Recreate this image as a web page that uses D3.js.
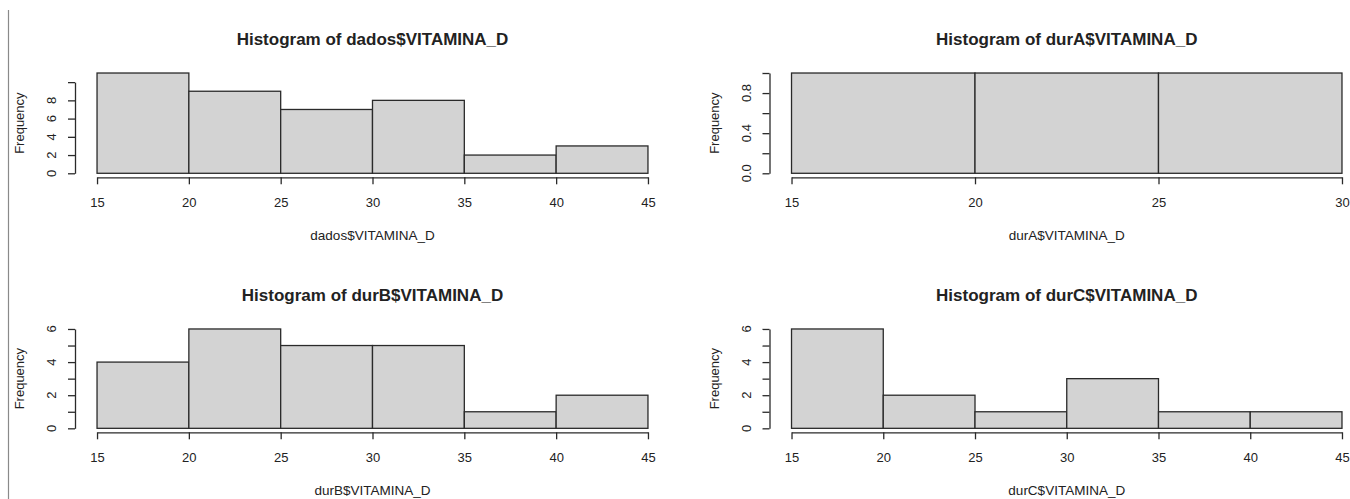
<!DOCTYPE html>
<html>
<head>
<meta charset="utf-8">
<script src="https://cdn.jsdelivr.net/npm/d3@7"></script>
<style>
  html, body { margin: 0; padding: 0; background: #fff; }
  svg { display: block; }
  text { font-family: "Liberation Sans", Arial, sans-serif; fill: #222; }
</style>
</head>
<body>
<svg id="chart" width="1350" height="499"></svg>
<script>
// ---- Data ----
const breaksDados = [15, 20, 25, 30, 35, 40, 45];
const countsDados = [11, 9, 7, 8, 2, 3];

const breaksDurA = [15, 20, 25, 30];
const countsDurA = [1, 1, 1];

const breaksDurB = [15, 20, 25, 30, 35, 40, 45];
const countsDurB = [4, 6, 5, 5, 1, 2];

const breaksDurC = [15, 20, 25, 30, 35, 40, 45];
const countsDurC = [6, 2, 1, 3, 1, 1];

const titles = ["Histogram of dados$VITAMINA_D", "Histogram of durA$VITAMINA_D",
                "Histogram of durB$VITAMINA_D", "Histogram of durC$VITAMINA_D"];
const xLabels = ["dados$VITAMINA_D", "durA$VITAMINA_D", "durB$VITAMINA_D", "durC$VITAMINA_D"];
const yLabel = "Frequency";

const yTicksDados = [0, 2, 4, 6, 8, 10];
const yTickLabelsDados = ["0", "2", "4", "6", "8", ""];
const yTicksDurA = [0, 0.2, 0.4, 0.6, 0.8, 1.0];
const yTickLabelsDurA = ["0.0", "", "0.4", "", "0.8", ""];
const yTicksDurB = [0, 1, 2, 3, 4, 5, 6];
const yTickLabelsDurB = ["0", "", "2", "", "4", "", "6"];
const yTicksDurC = [0, 1, 2, 3, 4, 5, 6];
const yTickLabelsDurC = ["0", "", "2", "", "4", "", "6"];

// ---- Layout ----
const panels = [
  { breaks: breaksDados, counts: countsDados, title: titles[0], xlab: xLabels[0],
    yTicks: yTicksDados, yTickLabels: yTickLabelsDados,
    box: { left: 75, right: 670, top: 69, bottom: 177.3 } },
  { breaks: breaksDurA, counts: countsDurA, title: titles[1], xlab: xLabels[1],
    yTicks: yTicksDurA, yTickLabels: yTickLabelsDurA,
    box: { left: 769.5, right: 1364, top: 69, bottom: 177.3 } },
  { breaks: breaksDurB, counts: countsDurB, title: titles[2], xlab: xLabels[2],
    yTicks: yTicksDurB, yTickLabels: yTickLabelsDurB,
    box: { left: 75, right: 670, top: 325, bottom: 432.3 } },
  { breaks: breaksDurC, counts: countsDurC, title: titles[3], xlab: xLabels[3],
    yTicks: yTicksDurC, yTickLabels: yTickLabelsDurC,
    box: { left: 769.5, right: 1364, top: 325, bottom: 432.3 } }
];

const svg = d3.select("#chart");
const ink = "#2a2a2a";
const fs = 13;

// left border line seen in the screenshot
svg.append("line")
  .attr("x1", 8.5).attr("x2", 8.5).attr("y1", 10).attr("y2", 499)
  .attr("stroke", "#8a8a8a").attr("stroke-width", 1.2);

panels.forEach(p => {
  const b = p.box;
  const xmin = d3.min(p.breaks), xmax = d3.max(p.breaks);
  const xpad = 0.04 * (xmax - xmin);
  const x = d3.scaleLinear().domain([xmin - xpad, xmax + xpad]).range([b.left, b.right]);
  const ymax = d3.max(p.counts);
  const ypad = 0.04 * ymax;
  const y = d3.scaleLinear().domain([-ypad, ymax + ypad]).range([b.bottom, b.top]);

  const g = svg.append("g");

  // bars
  const bins = p.counts.map((c, i) => ({ x0: p.breaks[i], x1: p.breaks[i + 1], c }));
  g.selectAll("rect.bar").data(bins).enter().append("rect")
    .attr("class", "bar")
    .attr("x", d => x(d.x0))
    .attr("width", d => x(d.x1) - x(d.x0))
    .attr("y", d => y(d.c))
    .attr("height", d => y(0) - y(d.c))
    .attr("fill", "#d3d3d3")
    .attr("stroke", ink)
    .attr("stroke-width", 1.3);

  // x axis (R style: line spans first to last tick)
  const xAxisScale = d3.scaleLinear().domain([xmin, xmax]).range([x(xmin), x(xmax)]);
  const xAxis = d3.axisBottom(xAxisScale)
    .tickValues(p.breaks.filter(v => v % 5 === 0))
    .tickFormat(d3.format("d"))
    .tickSize(7).tickSizeOuter(0).tickPadding(13);
  const xg = g.append("g").attr("transform", `translate(0,${b.bottom})`).call(xAxis);
  xg.select(".domain").attr("stroke", ink).attr("stroke-width", 1.3);
  xg.selectAll(".tick line").attr("stroke", ink).attr("stroke-width", 1.3);
  xg.selectAll(".tick text")
    .attr("font-family", '"Liberation Sans", Arial, sans-serif')
    .attr("font-size", fs).attr("fill", "#222");

  // y axis
  const lastTick = p.yTicks[p.yTicks.length - 1];
  const yAxisScale = d3.scaleLinear().domain([0, lastTick]).range([y(0), y(lastTick)]);
  const yAxis = d3.axisLeft(yAxisScale)
    .tickValues(p.yTicks)
    .tickFormat("")
    .tickSize(7).tickSizeOuter(0);
  const yg = g.append("g").attr("transform", `translate(${b.left},0)`).call(yAxis);
  yg.select(".domain").attr("stroke", ink).attr("stroke-width", 1.3);
  yg.selectAll(".tick line").attr("stroke", ink).attr("stroke-width", 1.3);

  // rotated y tick labels
  g.selectAll("text.ytl").data(p.yTicks.map((v, i) => ({ v, l: p.yTickLabels[i] })).filter(d => d.l !== ""))
    .enter().append("text")
    .attr("class", "ytl")
    .attr("transform", d => `translate(${b.left - 18.6},${y(d.v)}) rotate(-90)`)
    .attr("text-anchor", "middle")
    .attr("font-size", fs)
    .text(d => d.l);

  // y label
  g.append("text")
    .attr("transform", `translate(${b.left - 50.7},${(b.top + b.bottom) / 2}) rotate(-90)`)
    .attr("text-anchor", "middle")
    .attr("font-size", fs)
    .text(yLabel);

  // x label
  g.append("text")
    .attr("x", (b.left + b.right) / 2)
    .attr("y", b.bottom + 62.7)
    .attr("text-anchor", "middle")
    .attr("font-size", 13.5)
    .text(p.xlab);

  // title
  g.append("text")
    .attr("x", (b.left + b.right) / 2)
    .attr("y", b.top - 24.4)
    .attr("text-anchor", "middle")
    .attr("font-size", 17)
    .attr("font-weight", "bold")
    .text(p.title);
});
</script>
</body>
</html>
